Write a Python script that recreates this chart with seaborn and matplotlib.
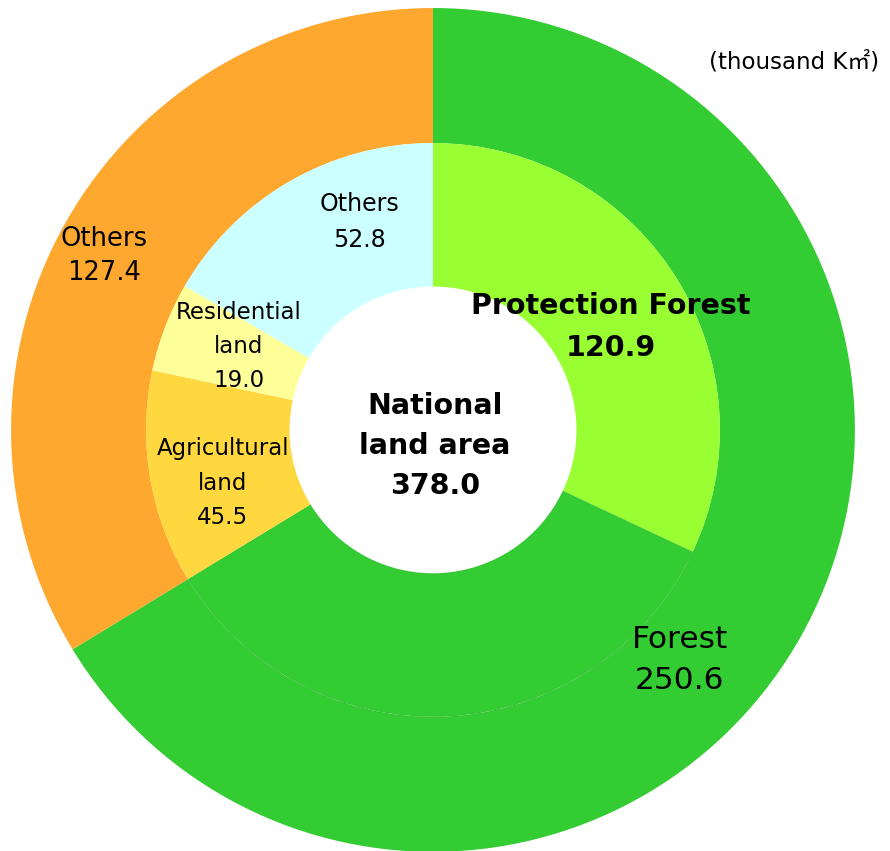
import matplotlib
matplotlib.use("Agg")
import matplotlib.pyplot as plt
import seaborn as sns

# Land use of the national territory (thousand km²)
outer_labels = ["Forest", "Others"]
outer_values = [250.6, 127.4]

inner_labels = ["Protection Forest", "Forest (other)", "Agricultural land",
                "Residential land", "Others", "Others (unlisted)"]
inner_values = [120.9, 129.7, 45.5, 19.0, 52.8, 10.1]

total_label = "National\nland area\n378.0"
unit_label = "(thousand K\u33a1)"

sns.set_theme(style="white")
plt.rcParams["font.family"] = ["DejaVu Sans", "Noto Sans CJK JP"]
plt.rcParams["text.color"] = "black"

green = "#33cc33"
outer_colors = [green, "#ffa82f"]
inner_colors = ["#99ff33", green, "#ffd73f", "#ffff99", "#ccffff", "#ccffff"]

fig = plt.figure(figsize=(8.9, 8.51), dpi=100)
ax = fig.add_axes([0, 0, 1, 1])

ax.pie(outer_values, colors=outer_colors, radius=1.0, startangle=90,
       counterclock=False, wedgeprops=dict(width=0.32, linewidth=0))
inner_wedges, _ = ax.pie(inner_values, colors=inner_colors, radius=0.68,
                         startangle=90, counterclock=False,
                         wedgeprops=dict(width=0.34, linewidth=0))
# faint outline of the non-protection forest part of the inner ring
inner_wedges[1].set_edgecolor((0, 0.35, 0, 0.06))
inner_wedges[1].set_linewidth(1.2)

ax.set_xlim(-1.026, 1.083)
ax.set_ylim(-0.998, 1.019)
ax.set_aspect("equal")
ax.axis("off")

ax.text(0.855, 0.872, unit_label, ha="center", va="center", fontsize=16.5)
ax.text(-0.780, 0.412, f"{outer_labels[1]}\n{outer_values[1]:.1f}",
        ha="center", va="center", fontsize=18.5, linespacing=1.42)
ax.text(0.585, -0.545, f"{outer_labels[0]}\n{outer_values[0]:.1f}",
        ha="center", va="center", fontsize=22.5, linespacing=1.55)
ax.text(0.422, 0.244, f"{inner_labels[0]}\n{inner_values[0]:.1f}",
        ha="center", va="center", fontsize=20.5, fontweight="bold",
        linespacing=1.6)
ax.text(-0.498, -0.126, f"Agricultural\nland\n{inner_values[2]:.1f}",
        ha="center", va="center", fontsize=16.5, linespacing=1.62)
ax.text(-0.460, 0.197, f"Residential\nland\n{inner_values[3]:.1f}",
        ha="center", va="center", fontsize=16.5, linespacing=1.62)
ax.text(-0.173, 0.493, f"{inner_labels[4]}\n{inner_values[4]:.1f}",
        ha="center", va="center", fontsize=17, linespacing=1.6)
ax.text(0.005, -0.038, total_label, ha="center", va="center",
        fontsize=20.5, fontweight="bold", linespacing=1.55)

fig.savefig("out.png", dpi=100)
